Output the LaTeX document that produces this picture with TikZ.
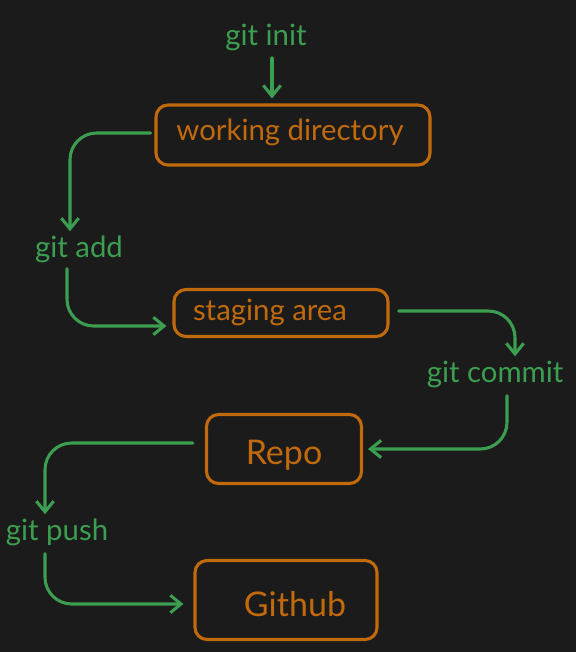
\documentclass[tikz,border=0pt]{standalone}
\usepackage{fontspec}
\setmainfont{Lato}
\usetikzlibrary{arrows.meta,calc}
\definecolor{bg}{RGB}{27,27,27}
\definecolor{gitgreen}{RGB}{60,158,80}
\definecolor{boxorange}{RGB}{193,106,12}
\tikzset{
  lbl/.style={text=gitgreen,font=\fontsize{22}{26}\selectfont,inner sep=0pt},
  boxtxt/.style={text=boxorange,font=\fontsize{22}{26}\selectfont,inner sep=0pt},
  bigtxt/.style={text=boxorange,font=\fontsize{25.5}{30}\selectfont,inner sep=0pt},
  stagebox/.style={draw=boxorange,line width=2.3pt,rounded corners=9pt,inner sep=0pt},
  flow/.style={draw=gitgreen,line width=2.3pt,line cap=round,rounded corners=20pt,
    -{Straight Barb[length=8pt,width=13pt,line width=2.3pt]}},
}
\begin{document}
\begin{tikzpicture}[x=0.75pt,y=-0.75pt]
\fill[bg] (0,0) rectangle (576,652);
\useasboundingbox (0,0) rectangle (576,652);
% boxes
\node[stagebox,minimum width=274*0.75pt,minimum height=60*0.75pt] (wd) at (293,135) {};
\node[stagebox,minimum width=214*0.75pt,minimum height=47*0.75pt] (stg) at (281,313) {};
\node[stagebox,minimum width=155*0.75pt,minimum height=69*0.75pt] (repo) at (284,449) {};
\node[stagebox,minimum width=182*0.75pt,minimum height=79*0.75pt] (gh) at (286,600) {};
% box texts
\node[boxtxt] (wdt) at (290,132) {working directory};
\node[boxtxt] (stgt) at (270,312) {staging area};
\node[bigtxt] (repot) at (284,455) {Repo};
\node[bigtxt] (ght) at (295,604) {Github};
% labels
\node[lbl] (init) at (266,37) {git init};
\node[lbl] (add) at (79,249) {git add};
\node[lbl] (commit) at (495,374) {git commit};
\node[lbl] (push) at (57,532) {git push};
% connectors
\coordinate (a1) at ($(wd.west)+(-4,-2)$);
\coordinate (a2) at ($(add.north)+(-9,-4)$);
\coordinate (b1) at ($(add.south)+(-12,6)$);
\coordinate (b2) at ($(stg.west)+(-6,13)$);
\coordinate (c1) at ($(stg.east)+(9,-2)$);
\coordinate (c2) at ($(commit.north)+(20,-4)$);
\coordinate (d1) at ($(commit.south)+(12,8)$);
\coordinate (d2) at ($(repo.east)+(5,0)$);
\coordinate (e1) at ($(repo.west)+(-12,-6)$);
\coordinate (e2) at ($(push.north)+(-12,-4)$);
\coordinate (f1) at ($(push.south)+(-12,8)$);
\coordinate (f2) at ($(gh.west)+(-10,4)$);
\draw[flow] (272,58) -- ($(wd.north)+(-21,-5)$);
\draw[flow] (a1) -| (a2);
\draw[flow] (b1) |- (b2);
\draw[flow] (c1) -| (c2);
\draw[flow] (d1) |- (d2);
\draw[flow] (e1) -| (e2);
\draw[flow] (f1) |- (f2);
\end{tikzpicture}
\end{document}
